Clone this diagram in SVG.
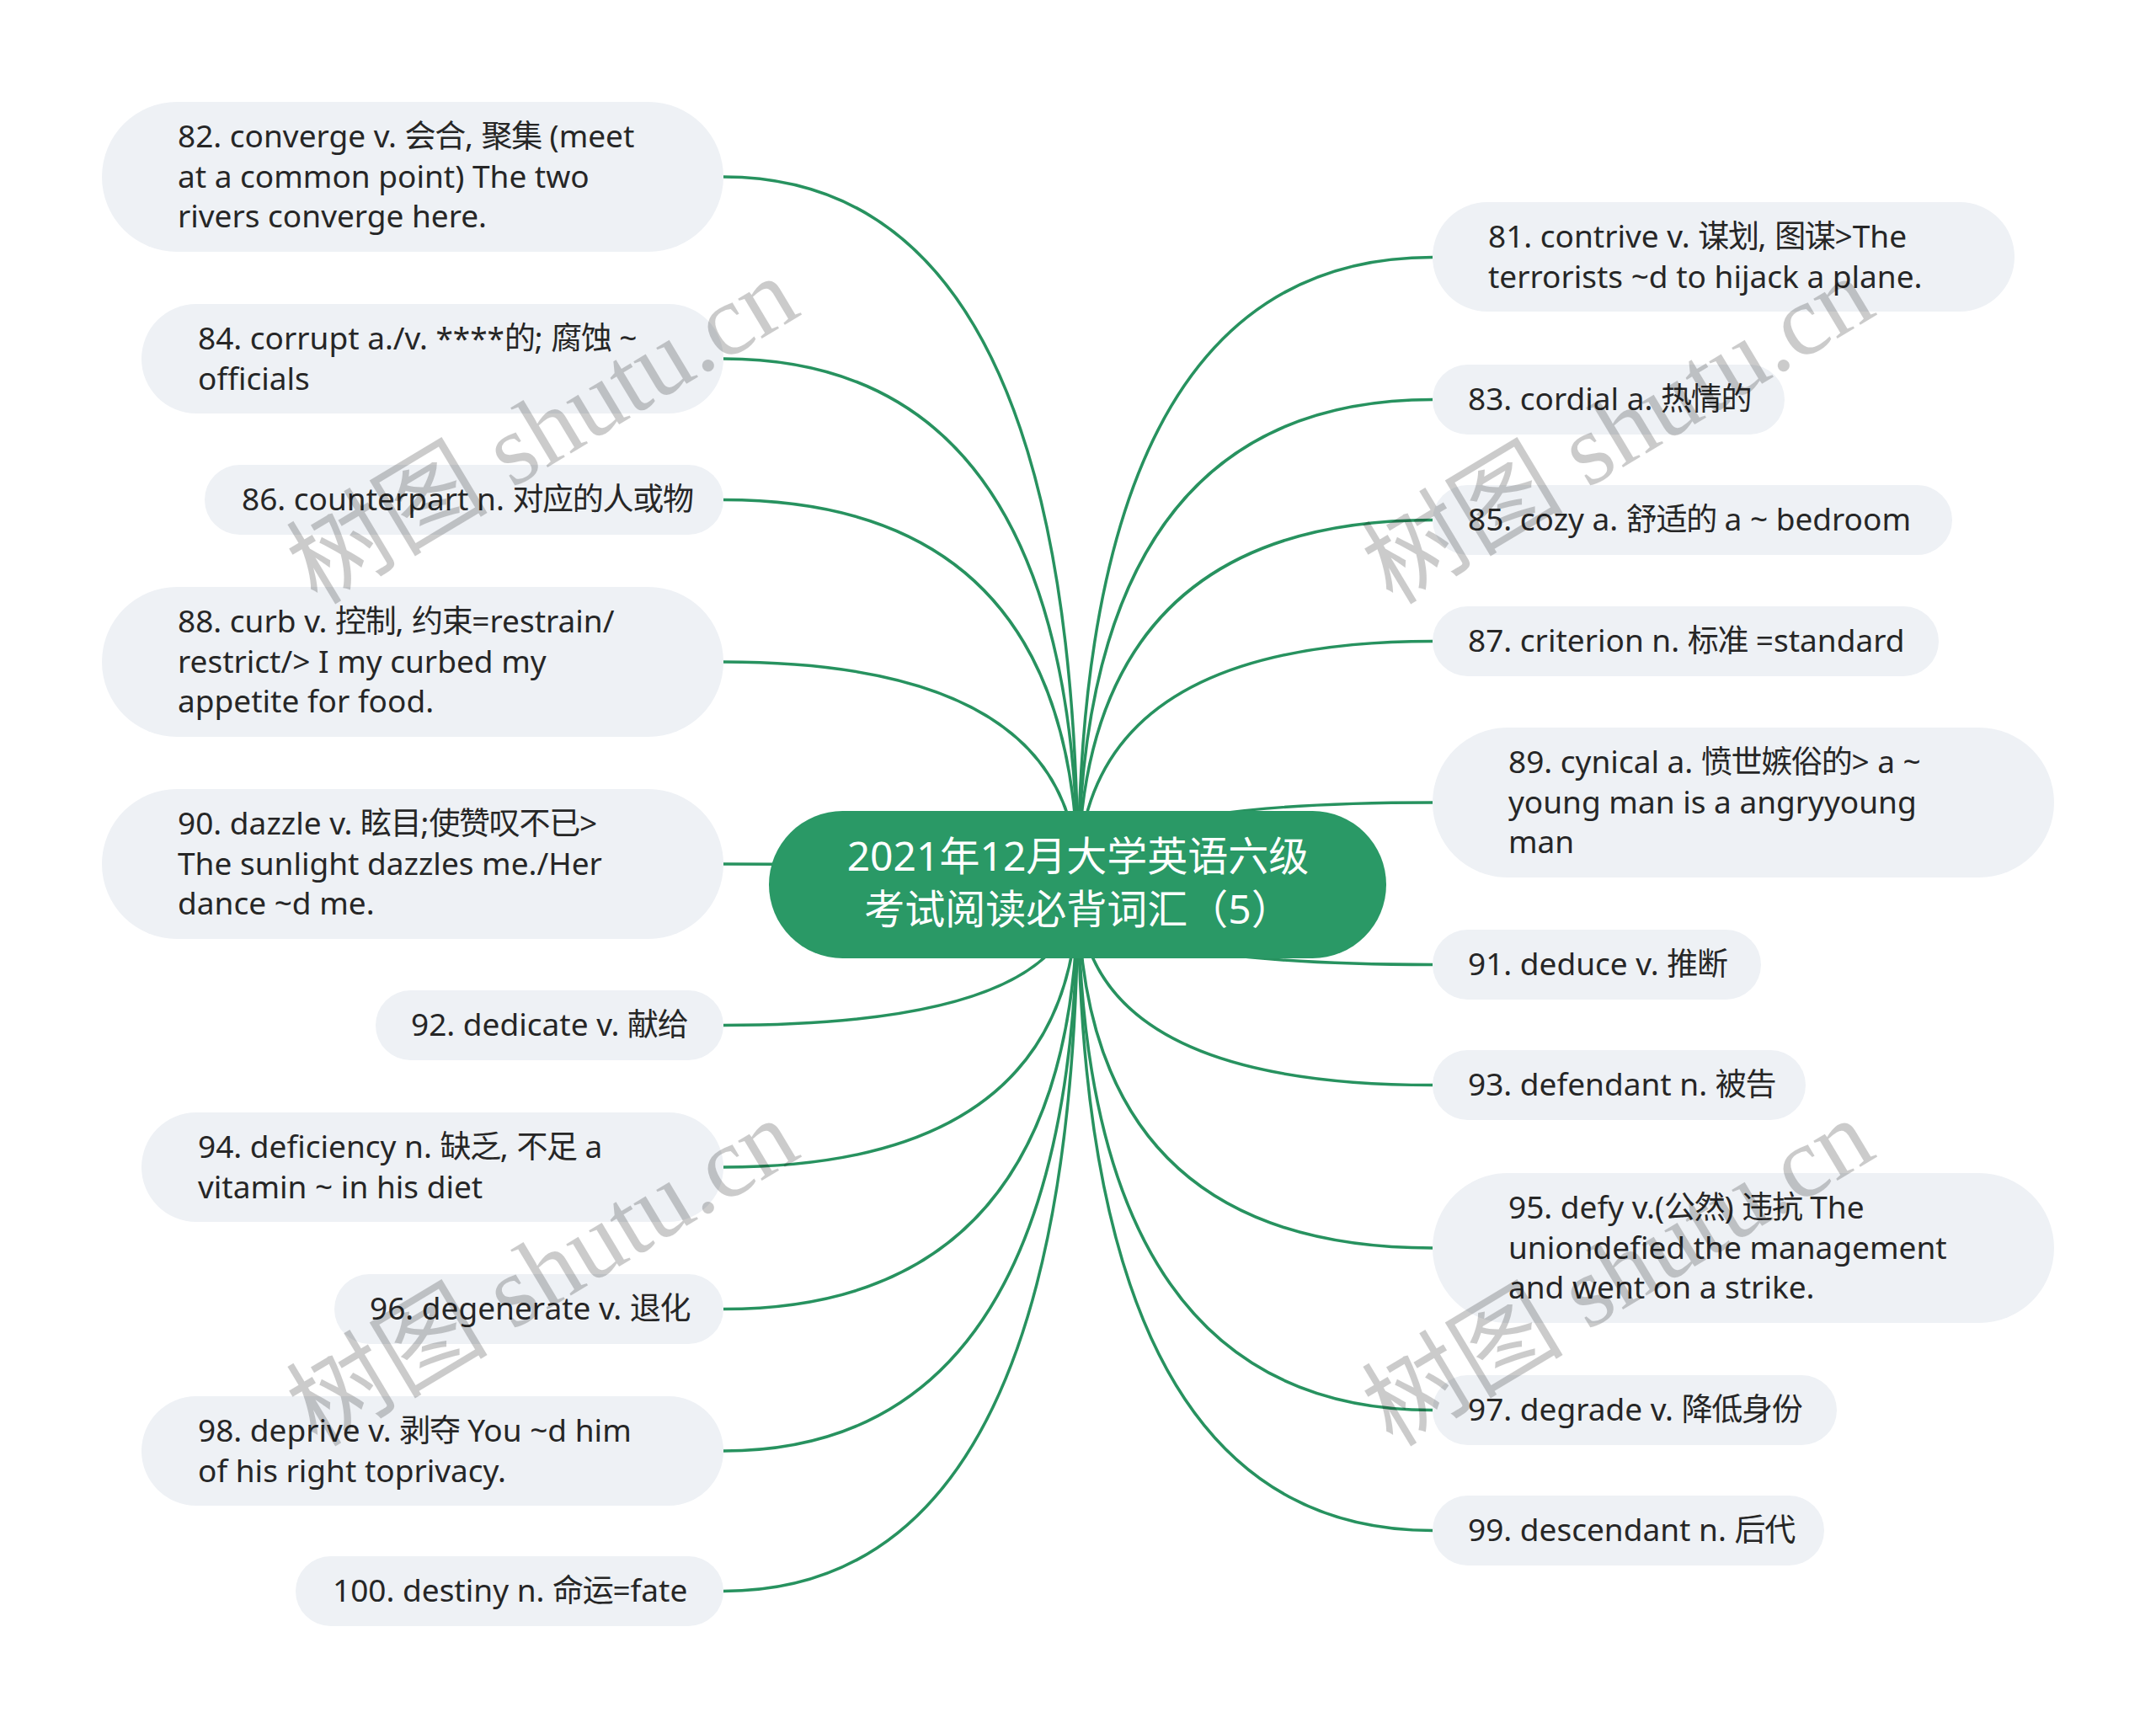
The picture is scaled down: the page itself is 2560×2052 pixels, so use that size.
<svg xmlns="http://www.w3.org/2000/svg" width="2560" height="2052" viewBox="0 0 2560 2052">
<style>
.bg{fill:#ffffff}
.links path{fill:none;stroke:#27925f;stroke-width:3.5}
.node rect{fill:#eef1f5}
.node text{font-family:"Noto Sans","Noto Sans CJK SC",sans-serif;font-size:37px;fill:#262626}
.c{letter-spacing:-1.3px}
.root rect{fill:#2a9966}
.root text{font-family:"Noto Sans","Noto Sans CJK SC",sans-serif;font-size:48px;fill:#ffffff;text-anchor:middle}
.wm text{font-family:"Liberation Serif","Noto Sans CJK SC",serif;font-size:120px;fill:#000000;opacity:0.2;text-anchor:middle}
</style>
<rect class="bg" x="0" y="0" width="2560" height="2052"/>
<g class="links" id="connectors">
<path d="M1280,1050 Q1280,210 859,210"/>
<path d="M1280,1050 Q1280,426 859,426"/>
<path d="M1280,1050 Q1280,593.5 859,593.5"/>
<path d="M1280,1050 Q1280,786 859,786"/>
<path d="M1280,1050 Q1280,1026 859,1026"/>
<path d="M1280,1050 Q1280,1217.5 859,1217.5"/>
<path d="M1280,1050 Q1280,1386 859,1386"/>
<path d="M1280,1050 Q1280,1554.5 859,1554.5"/>
<path d="M1280,1050 Q1280,1723 859,1723"/>
<path d="M1280,1050 Q1280,1889.5 859,1889.5"/>
<path d="M1280,1050 Q1280,305.5 1701,305.5"/>
<path d="M1280,1050 Q1280,474.5 1701,474.5"/>
<path d="M1280,1050 Q1280,617.5 1701,617.5"/>
<path d="M1280,1050 Q1280,761.5 1701,761.5"/>
<path d="M1280,1050 Q1280,953 1701,953"/>
<path d="M1280,1050 Q1280,1145.5 1701,1145.5"/>
<path d="M1280,1050 Q1280,1288.5 1701,1288.5"/>
<path d="M1280,1050 Q1280,1482 1701,1482"/>
<path d="M1280,1050 Q1280,1674.5 1701,1674.5"/>
<path d="M1280,1050 Q1280,1817.5 1701,1817.5"/>
</g>
<g class="root" id="root">
<rect x="913" y="963" width="733" height="175" rx="87.5"/>
<text x="1280" y="1034">2021年12月大学英语六级</text>
<text x="1280" y="1097">考试阅读必背词汇（5）</text>
</g>
<g class="node" id="n82">
<rect x="121" y="121" width="738" height="178" rx="89"/>
<text x="211" y="175">82. converge v. <tspan class="c">会合</tspan>, <tspan class="c">聚集</tspan> (meet</text>
<text x="211" y="222.5">at a common point) The two</text>
<text x="211" y="270">rivers converge here.</text>
</g>
<g class="node" id="n84">
<rect x="168" y="361" width="691" height="130" rx="65"/>
<text x="235" y="415">84. corrupt a./v. ****<tspan class="c">的</tspan>; <tspan class="c">腐蚀</tspan> ~</text>
<text x="235" y="462.5">officials</text>
</g>
<g class="node" id="n86">
<rect x="243" y="552" width="616" height="83" rx="41.5"/>
<text x="287" y="606">86. counterpart n. <tspan class="c">对应的人或物</tspan></text>
</g>
<g class="node" id="n88">
<rect x="121" y="697" width="738" height="178" rx="89"/>
<text x="211" y="751">88. curb v. <tspan class="c">控制</tspan>, <tspan class="c">约束</tspan>=restrain/</text>
<text x="211" y="798.5">restrict/&gt; I my curbed my</text>
<text x="211" y="846">appetite for food.</text>
</g>
<g class="node" id="n90">
<rect x="121" y="937" width="738" height="178" rx="89"/>
<text x="211" y="991">90. dazzle v. <tspan class="c">眩目</tspan>;<tspan class="c">使赞叹不已</tspan>&gt;</text>
<text x="211" y="1038.5">The sunlight dazzles me./Her</text>
<text x="211" y="1086">dance ~d me.</text>
</g>
<g class="node" id="n92">
<rect x="446" y="1176" width="413" height="83" rx="41.5"/>
<text x="488" y="1230">92. dedicate v. <tspan class="c">献给</tspan></text>
</g>
<g class="node" id="n94">
<rect x="168" y="1321" width="691" height="130" rx="65"/>
<text x="235" y="1375">94. deficiency n. <tspan class="c">缺乏</tspan>, <tspan class="c">不足</tspan> a</text>
<text x="235" y="1422.5">vitamin ~ in his diet</text>
</g>
<g class="node" id="n96">
<rect x="397" y="1513" width="462" height="83" rx="41.5"/>
<text x="439" y="1567">96. degenerate v. <tspan class="c">退化</tspan></text>
</g>
<g class="node" id="n98">
<rect x="168" y="1658" width="691" height="130" rx="65"/>
<text x="235" y="1712">98. deprive v. <tspan class="c">剥夺</tspan> You ~d him</text>
<text x="235" y="1759.5">of his right toprivacy.</text>
</g>
<g class="node" id="n100">
<rect x="351" y="1848" width="508" height="83" rx="41.5"/>
<text x="395" y="1902">100. destiny n. <tspan class="c">命运</tspan>=fate</text>
</g>
<g class="node" id="n81">
<rect x="1701" y="240" width="691" height="130" rx="65"/>
<text x="1767" y="294">81. contrive v. <tspan class="c">谋划</tspan>, <tspan class="c">图谋</tspan>&gt;The</text>
<text x="1767" y="341.5">terrorists ~d to hijack a plane.</text>
</g>
<g class="node" id="n83">
<rect x="1701" y="433" width="418" height="83" rx="41.5"/>
<text x="1743" y="487">83. cordial a. <tspan class="c">热情的</tspan></text>
</g>
<g class="node" id="n85">
<rect x="1701" y="576" width="617" height="83" rx="41.5"/>
<text x="1743" y="630">85. cozy a. <tspan class="c">舒适的</tspan> a ~ bedroom</text>
</g>
<g class="node" id="n87">
<rect x="1701" y="720" width="601" height="83" rx="41.5"/>
<text x="1743" y="774">87. criterion n. <tspan class="c">标准</tspan> =standard</text>
</g>
<g class="node" id="n89">
<rect x="1701" y="864" width="738" height="178" rx="89"/>
<text x="1791" y="918">89. cynical a. <tspan class="c">愤世嫉俗的</tspan>&gt; a ~</text>
<text x="1791" y="965.5">young man is a angryyoung</text>
<text x="1791" y="1013">man</text>
</g>
<g class="node" id="n91">
<rect x="1701" y="1104" width="390" height="83" rx="41.5"/>
<text x="1743" y="1158">91. deduce v. <tspan class="c">推断</tspan></text>
</g>
<g class="node" id="n93">
<rect x="1701" y="1247" width="443" height="83" rx="41.5"/>
<text x="1743" y="1301">93. defendant n. <tspan class="c">被告</tspan></text>
</g>
<g class="node" id="n95">
<rect x="1701" y="1393" width="738" height="178" rx="89"/>
<text x="1791" y="1447">95. defy v.(<tspan class="c">公然</tspan>) <tspan class="c">违抗</tspan> The</text>
<text x="1791" y="1494.5">uniondefied the management</text>
<text x="1791" y="1542">and went on a strike.</text>
</g>
<g class="node" id="n97">
<rect x="1701" y="1633" width="480" height="83" rx="41.5"/>
<text x="1743" y="1687">97. degrade v. <tspan class="c">降低身份</tspan></text>
</g>
<g class="node" id="n99">
<rect x="1701" y="1776" width="465" height="83" rx="41.5"/>
<text x="1743" y="1830">99. descendant n. <tspan class="c">后代</tspan></text>
</g>
<g class="wm" id="watermarks">
<text transform="translate(665,546) rotate(-31)">树图 shutu.cn</text>
<text transform="translate(1942,546) rotate(-31)">树图 shutu.cn</text>
<text transform="translate(665,1546) rotate(-31)">树图 shutu.cn</text>
<text transform="translate(1942,1546) rotate(-31)">树图 shutu.cn</text>
</g>
</svg>
